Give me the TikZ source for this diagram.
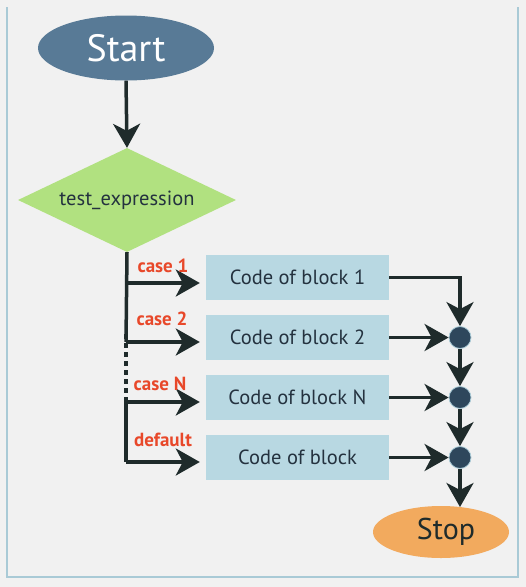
\documentclass[tikz,border=0pt]{standalone}
\usepackage{fontspec}
\setmainfont{PT Sans}
\usetikzlibrary{arrows.meta,shapes.geometric}
\definecolor{bgc}{HTML}{F1F1F1}
\definecolor{framec}{HTML}{A9CAD6}
\definecolor{startc}{HTML}{587A96}
\definecolor{decc}{HTML}{B1E180}
\definecolor{boxc}{HTML}{B8D8E2}
\definecolor{stopc}{HTML}{F2AA5E}
\definecolor{dotc}{HTML}{2E475C}
\definecolor{linec}{HTML}{1F2B2B}
\definecolor{labc}{HTML}{E8482A}
\definecolor{txtc}{HTML}{24323F}
\tikzset{
  flow/.style={draw=linec, line width=3.5pt, -{Stealth[length=24pt,width=27pt,inset=7pt]}},
  plainline/.style={draw=linec, line width=3.5pt},
  codebox/.style={rectangle, fill=boxc, minimum width=183pt, minimum height=45pt, inner sep=0pt, text=txtc, font=\fontsize{20.5}{20.5}\selectfont},
  joint/.style={circle, fill=dotc, draw=framec, line width=0.8pt, minimum size=22pt, inner sep=0pt},
  caselab/.style={text=labc, font=\bfseries\fontsize{19}{19}\selectfont, inner sep=0pt},
}
\begin{document}
\begin{tikzpicture}[x=1pt,y=-1pt]
\useasboundingbox (0,0) rectangle (526,587);
\fill[bgc] (0,0) rectangle (526,587);
\draw[framec, line width=1.6pt] (7,7) -- (7,577) -- (518,577) -- (518,7);

\node[ellipse, fill=startc, minimum width=176pt, minimum height=65pt, inner sep=0pt, text=white, font=\fontsize{38}{38}\selectfont] (start) at (126,48) {Start};
\node[diamond, aspect=2.1, fill=decc, minimum width=218pt, minimum height=104pt, inner sep=0pt, text=txtc, font=\fontsize{20.5}{20.5}\selectfont] (dec) at (127,200) {test\_expression};

\node[codebox] (b1) at (297.5,277.5) {Code of block 1};
\node[codebox] (b2) at (297.5,337.5) {Code of block 2};
\node[codebox] (bN) at (297.5,397.5) {Code of block N};
\node[codebox] (bd) at (297.5,457.5) {Code of block};

\node[joint] (c1) at (460,337.5) {};
\node[joint] (c2) at (460,397.5) {};
\node[joint] (c3) at (460,457.5) {};

\node[ellipse, fill=stopc, minimum width=136pt, minimum height=52pt, inner sep=0pt] (stop) at (441,532) {};
\node[text=linec, font=\fontsize{30}{30}\selectfont, inner sep=0pt] (stoptext) at (446,532) {Stop};

\coordinate (p1) at (126,283);
\coordinate (p2) at (126,342);
\coordinate (pN) at (126,402);
\coordinate (pd) at (126,462);
\coordinate (r1) at (460,277.5);

\draw[flow] (start.south) -- (dec.north);
\draw[plainline] (dec.south) -- (p2);
\draw[draw=linec, line width=3.5pt, dash pattern=on 5pt off 4pt] ([yshift=8pt]p2) -- ([yshift=-8pt]pN);
\draw[plainline] (pN) -- (pd);

\draw[flow, shorten >=6pt] (p1) -- (p1 -| b1.west);
\draw[flow, shorten >=6pt] (p2) -- (p2 -| b2.west);
\draw[flow, shorten >=6pt] (pN) -- (pN -| bN.west);
\draw[flow, shorten >=6pt] (pd) -- (pd -| bd.west);

\node[caselab] (l1) at (163,266) {case 1};
\node[caselab] (l2) at (162,319) {case 2};
\node[caselab] (lN) at (160,384) {case N};
\node[caselab] (ld) at (163,440) {default};

\draw[flow] (b1.east) -- (r1) -- (c1.north);
\draw[flow] (b2.east) -- (c1.west);
\draw[flow] (bN.east) -- (c2.west);
\draw[flow] (bd.east) -- (c3.west);
\draw[flow] (c1.south) -- (c2.north);
\draw[flow] (c2.south) -- (c3.north);
\draw[flow] (c3.south) -- (c3.south |- 0,507);
\end{tikzpicture}
\end{document}
